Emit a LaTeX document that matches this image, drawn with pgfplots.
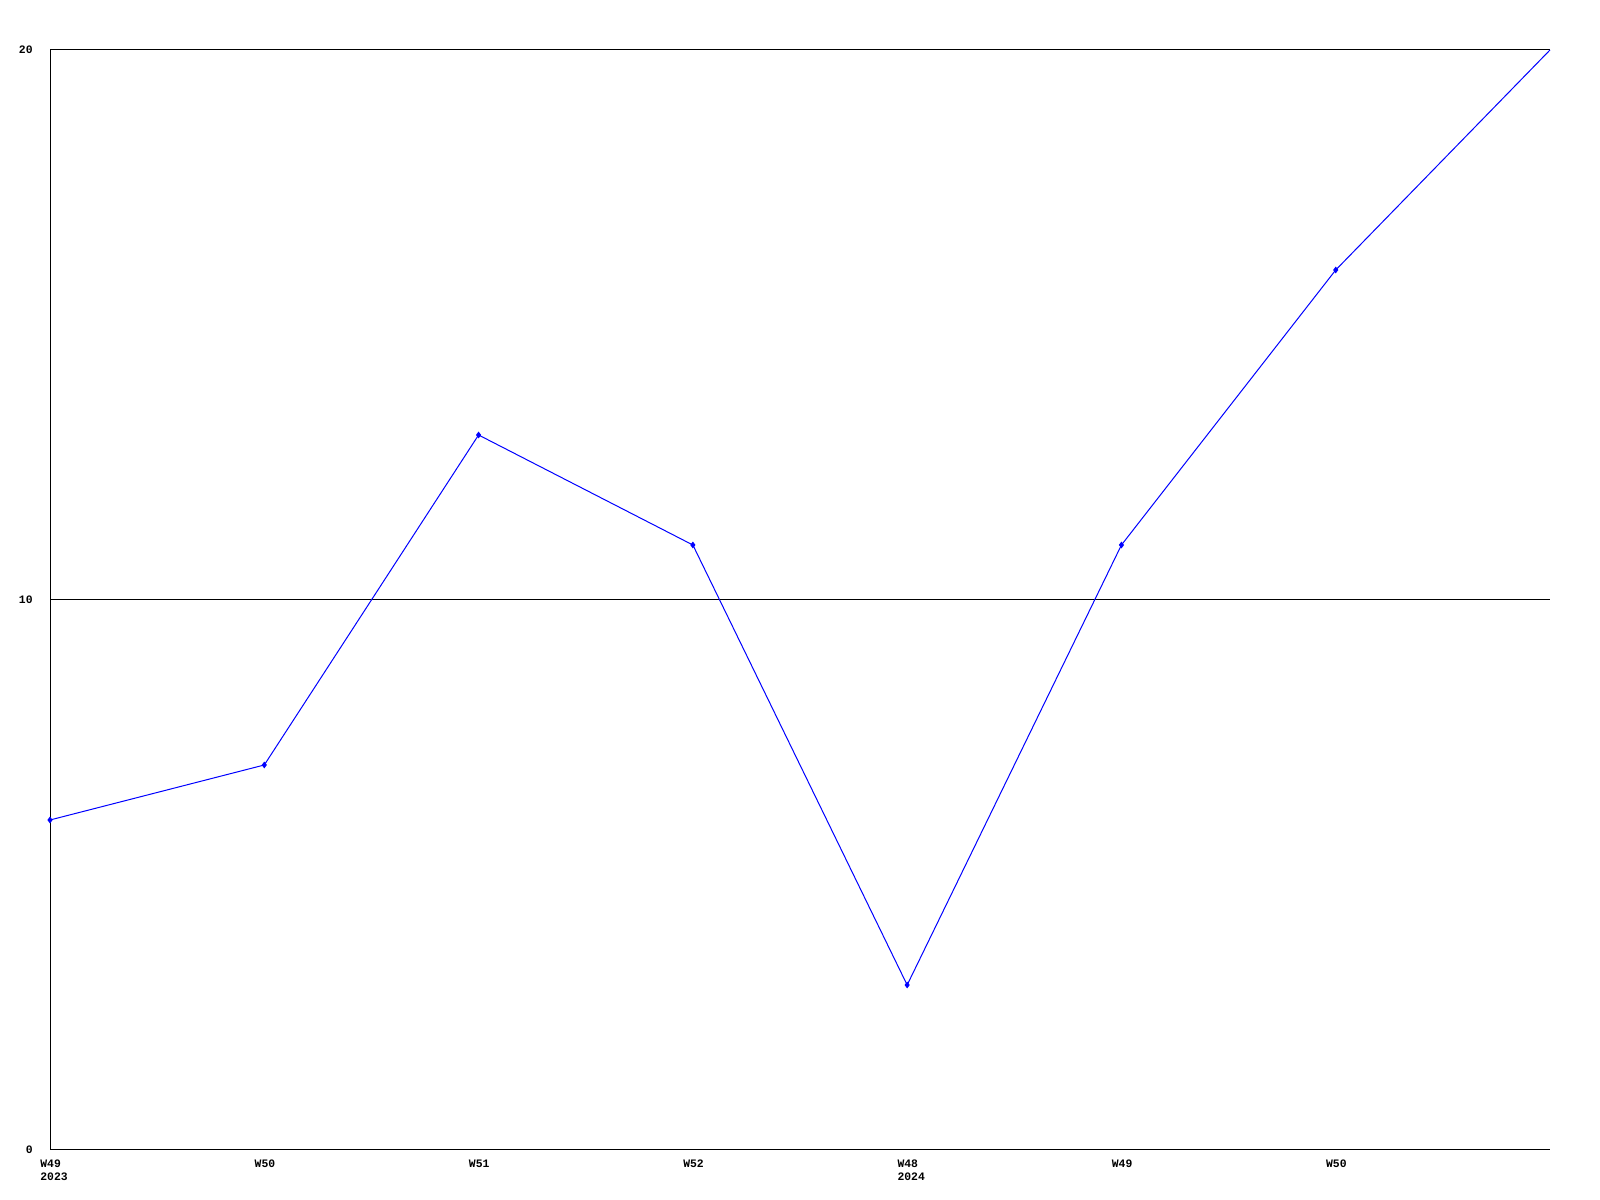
\documentclass[border=0pt]{standalone}
\usepackage{pgfplots}
\pgfplotsset{compat=1.18}
\usepackage{fontspec}
\setmainfont{Liberation Mono}
\begin{document}
\begin{tikzpicture}[x=1bp,y=1bp]
\path[use as bounding box] (0,0) rectangle (800,600);
\begin{axis}[
  at={(25bp,25bp)}, anchor=south west,
  scale only axis, width=750bp, height=550bp,
  xmin=0, xmax=7, ymin=0, ymax=20,
  axis x line*=bottom, axis y line*=left,
  axis line style={-, line width=0.5bp, black},
  xtick={0,1,2,3,4,5,6},
  xticklabels={{\vphantom{0}W49\\2023},\vphantom{0}W50,\vphantom{0}W51,\vphantom{0}W52,{\vphantom{0}W48\\2024},\vphantom{0}W49,\vphantom{0}W50},
  ytick={0,10,20},
  ymajorgrids, grid style={black, line width=0.5bp},
  major tick length=0,
  tick label style={font=\fontsize{5.7bp}{6.8bp}\selectfont\bfseries},
  xticklabel style={anchor=north west, align=left, inner sep=0pt, xshift=-5bp, yshift=-4.5bp},
  yticklabel style={anchor=east, inner sep=0pt, xshift=-8.5bp},
  /pgf/number format/assume math mode=true,
  clip=false,
]
\addplot[blue, line width=0.5bp, mark=diamond*, mark size=1.3bp, mark indices={1,2,3,4,5,6,7}, mark options={solid, fill=blue}]
  coordinates {(0,6) (1,7) (2,13) (3,11) (4,3) (5,11) (6,16) (7,20)};
\end{axis}
\end{tikzpicture}
\end{document}
